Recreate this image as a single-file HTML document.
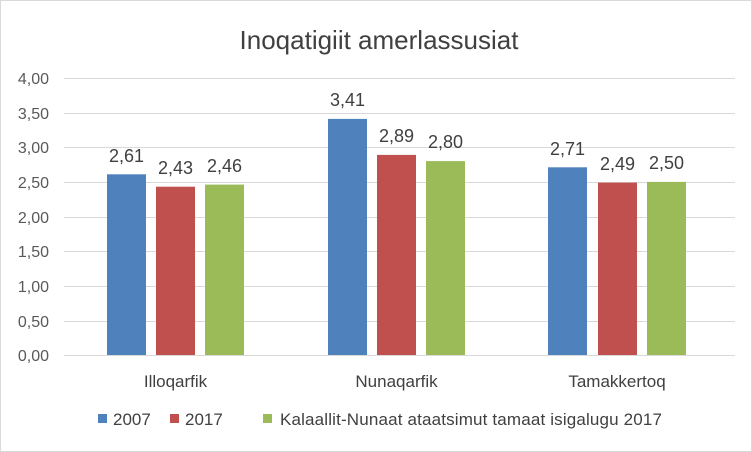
<!DOCTYPE html>
<html><head><meta charset="utf-8"><style>
body{margin:0;background:#fff}
svg{display:block;font-family:"Liberation Sans",sans-serif}
</style></head><body>
<svg width="752" height="452" viewBox="0 0 752 452">
<rect x="0.5" y="0.5" width="751" height="451" fill="#fff" stroke="#d9d9d9"/>
<text x="379" y="49" text-anchor="middle" font-size="26" fill="#404040">Inoqatigiit amerlassusiat</text>
<g stroke="#d9d9d9" stroke-width="1">
<line x1="64" x2="735" y1="78.5" y2="78.5"/>
<line x1="64" x2="735" y1="113.5" y2="113.5"/>
<line x1="64" x2="735" y1="147.5" y2="147.5"/>
<line x1="64" x2="735" y1="182.5" y2="182.5"/>
<line x1="64" x2="735" y1="217.5" y2="217.5"/>
<line x1="64" x2="735" y1="251.5" y2="251.5"/>
<line x1="64" x2="735" y1="286.5" y2="286.5"/>
<line x1="64" x2="735" y1="321.5" y2="321.5"/>
<line x1="64" x2="735" y1="355.5" y2="355.5"/>
</g>
<g font-size="16" fill="#595959" text-anchor="end">
<text x="49" y="84">4,00</text><text x="49" y="119">3,50</text><text x="49" y="153">3,00</text>
<text x="49" y="188">2,50</text><text x="49" y="223">2,00</text><text x="49" y="257">1,50</text>
<text x="49" y="292">1,00</text><text x="49" y="327">0,50</text><text x="49" y="361">0,00</text>
</g>
<g>
<rect x="107" y="174.3" width="39" height="180.7" fill="#4f81bd"/>
<rect x="156" y="186.7" width="39" height="168.3" fill="#c0504d"/>
<rect x="205" y="184.6" width="39" height="170.4" fill="#9bbb59"/>
<rect x="328" y="118.9" width="39" height="236.1" fill="#4f81bd"/>
<rect x="377" y="154.9" width="39" height="200.1" fill="#c0504d"/>
<rect x="426" y="161.1" width="39" height="193.9" fill="#9bbb59"/>
<rect x="548" y="167.3" width="39" height="187.7" fill="#4f81bd"/>
<rect x="598" y="182.6" width="39" height="172.4" fill="#c0504d"/>
<rect x="647" y="181.9" width="39" height="173.1" fill="#9bbb59"/>
</g>
<g font-size="18" fill="#404040" text-anchor="middle">
<text x="126.5" y="162">2,61</text><text x="175.5" y="174">2,43</text><text x="224.5" y="172">2,46</text>
<text x="347.5" y="106">3,41</text><text x="396.5" y="142">2,89</text><text x="445.5" y="148">2,80</text>
<text x="567.5" y="155">2,71</text><text x="617.5" y="170">2,49</text><text x="666.5" y="169">2,50</text>
</g>
<g font-size="17" fill="#404040" text-anchor="middle">
<text x="175.5" y="387">Illoqarfik</text>
<text x="396.5" y="387">Nunaqarfik</text>
<text x="617" y="387">Tamakkertoq</text>
</g>
<g font-size="17" fill="#404040">
<rect x="98" y="414" width="9" height="9" fill="#4f81bd"/><text x="113" y="425">2007</text>
<rect x="170" y="414" width="9" height="9" fill="#c0504d"/><text x="185" y="425">2017</text>
<rect x="263" y="414" width="9" height="9" fill="#9bbb59"/><text x="280" y="425" textLength="382">Kalaallit-Nunaat ataatsimut tamaat isigalugu 2017</text>
</g>
</svg>
</body></html>
